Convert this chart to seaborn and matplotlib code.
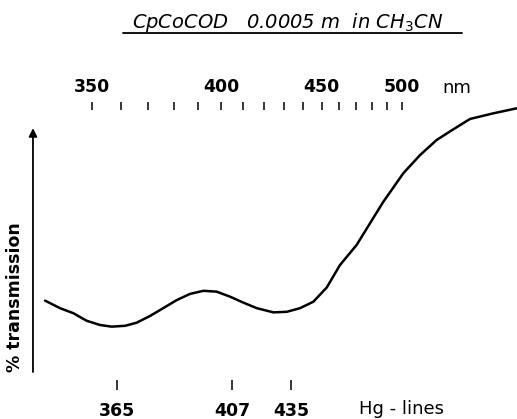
import numpy as np
import matplotlib
matplotlib.use("Agg")
import matplotlib.pyplot as plt
import seaborn as sns
from matplotlib.lines import Line2D

# ---------------------------------------------------
# data (arbitrary % transmission units)
# ---------------------------------------------------
wavelength_nm = [334.8, 339.5, 343.8, 348.2, 352.7, 356.8, 361.6, 365.8, 370.8,
                 375.9, 381.3, 386.7, 392.3, 398.0, 404.0, 410.0, 416.4, 424.5,
                 431.3, 438.2, 445.4, 452.9, 460.5, 470.5, 478.8, 487.4, 500.9,
                 512.8, 525.2, 538.2, 551.9, 572.2, 594.2]
transmission = [25.5, 22.8, 21.0, 18.3, 16.8, 16.2, 16.5, 17.6, 20.0,
                22.8, 25.7, 27.9, 29.0, 28.7, 26.9, 24.8, 22.8, 21.3,
                21.5, 22.8, 25.1, 30.2, 38.2, 45.4, 53.1, 60.8, 71.0,
                77.5, 82.9, 86.7, 90.4, 92.4, 94.2]

# wavelength scale at the top
nm_labeled = [350, 400, 450, 500]
nm_labels = ["350", "400", "450", "500"]
nm_unlabeled = [360, 370, 380, 390, 410, 420, 430, 440, 460, 470, 480, 490]

# Hg calibration marks, where they sit on the drawn scale
hg_marks_nm = [358.7, 404.9, 433.5]
hg_labels = ["365", "407", "435"]

TITLE = r"CpCoCOD   0.0005 m  in CH$_3$CN"
X_RANGE = (331.1, 594.5)
Y_RANGE = (-2.86, 93.6)
ARROW_TOP = 87.1


# prism scale: linear in wavenumber
def to_wavenumber(x):
    x = np.asarray(x, dtype=float)
    with np.errstate(divide="ignore", invalid="ignore"):
        return -1e7 / x


def from_wavenumber(v):
    v = np.asarray(v, dtype=float)
    with np.errstate(divide="ignore", invalid="ignore"):
        return -1e7 / v


sns.set_style("white")
plt.rcParams["font.family"] = ["DejaVu Sans"]
plt.rcParams["text.color"] = "black"
plt.rcParams["axes.labelcolor"] = "black"
plt.rcParams["xtick.color"] = "black"

fig = plt.figure(figsize=(5.17, 4.19), dpi=100)
ax = fig.add_axes([0.0638, 0.0931, 0.9362, 0.6444])

sns.lineplot(x=wavelength_nm, y=transmission, ax=ax, color="black",
             linewidth=1.8, estimator=None, clip_on=False)

ax.set_xscale("function", functions=(to_wavenumber, from_wavenumber))
ax.set_xlim(*X_RANGE)
ax.set_ylim(*Y_RANGE)

# bottom Hg marks (twin first: twiny resets the parent ticks to the bottom)
ax_hg = ax.twiny()
ax_hg.set_xscale("function", functions=(to_wavenumber, from_wavenumber))
ax_hg.set_xlim(*X_RANGE)
ax_hg.xaxis.tick_bottom()
ax_hg.set_xticks(hg_marks_nm)
ax_hg.set_xticklabels(hg_labels, fontweight="bold")
ax_hg.tick_params(axis="x", direction="out", length=7.2, width=1.1,
                  pad=9, labelsize=12.5)
ax_hg.annotate("Hg - lines", xy=(0.762, -0.107), xycoords="axes fraction",
               ha="center", va="center", fontsize=13)

# top nm scale
ax.xaxis.tick_top()
ax.set_xticks(nm_labeled)
ax.set_xticklabels(nm_labels, fontweight="bold")
ax.set_xticks(nm_unlabeled, minor=True)
ax.tick_params(axis="x", which="both", direction="out", length=5.8,
               width=1.1, pad=4.5, labelsize=12.5)
ax.set_yticks([])
ax.set_xlabel("")
ax.set_ylabel("% transmission", fontsize=12.5, fontweight="bold")
ax.yaxis.set_label_coords(-0.019, 0.307)
ax.annotate("nm", xy=(0.876, 1.0815), xycoords="axes fraction",
            ha="center", va="center", fontsize=13)

for a in (ax, ax_hg):
    for s in a.spines.values():
        s.set_visible(False)

# ordinate arrow
ax.annotate("", xy=(0, ARROW_TOP), xytext=(0, 0),
            xycoords=ax.get_yaxis_transform(),
            arrowprops=dict(arrowstyle="-|>", color="black", lw=1.3,
                            mutation_scale=12, shrinkA=0, shrinkB=0))

fig.text(0.557, 0.946, TITLE, ha="center", va="center", fontsize=14,
         style="italic")
fig.add_artist(Line2D([0.238, 0.894], [0.921, 0.921], color="black",
                      lw=1.3, transform=fig.transFigure))

fig.savefig("out.png", dpi=100)
